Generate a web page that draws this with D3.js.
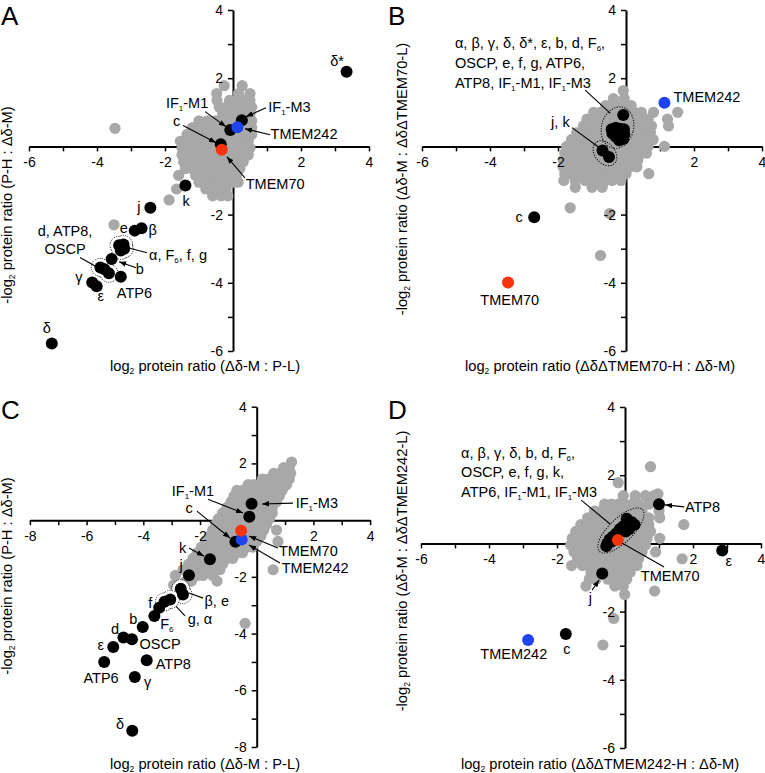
<!DOCTYPE html>
<html><head><meta charset="utf-8">
<script src="https://cdn.jsdelivr.net/npm/d3@7"></script>
<style>
body{margin:0;background:#fff}
svg{display:block}
text{font-family:"Liberation Sans",Arial,Helvetica,sans-serif;fill:#000}
</style>
</head><body>
<svg id="chart" width="765" height="773"></svg>
<script>
// ---------------- DATA ----------------
// tick labels
const xTickLabelsA = [-6,-4,-2,2,4], yTickLabelsA = [-6,-4,-2,2,4];
const xTickLabelsB = [-6,-4,-2,2,4], yTickLabelsB = [-6,-4,-2,2,4];
const xTickLabelsC = [-8,-6,-4,-2,2,4], yTickLabelsC = [-8,-6,-4,-2,2,4];
const xTickLabelsD = [-6,-4,-2,2,4], yTickLabelsD = [-6,-4,-2,2,4];

// axis titles
const xTitleA = "log_2 protein ratio (Δδ-M : P-L)";
const yTitleA = "-log_2 protein ratio (P-H : Δδ-M)";
const xTitleB = "log_2 protein ratio (ΔδΔTMEM70-H : Δδ-M)";
const yTitleB = "-log_2 protein ratio (Δδ-M : ΔδΔTMEM70-L)";
const xTitleC = "log_2 protein ratio (Δδ-M : P-L)";
const yTitleC = "-log_2 protein ratio (P-H : Δδ-M)";
const xTitleD = "log_2 protein ratio (ΔδΔTMEM242-H : Δδ-M)";
const yTitleD = "-log_2 protein ratio (Δδ-M : ΔδΔTMEM242-L)";

// gray (other proteins): rows of [y, x1, x2, ...]
const grayA = [
 [1.78,-0.26,0.27],
 [1.55,-0.48,0.16,0.5],
 [1.35,-0.47,-0.1,0.1,0.3,0.5],
 [1.15,-0.4,-0.2,0.0,0.2,0.4,0.55],
 [0.95,-0.3,-0.1,0.1,0.3,0.5],
 [0.75,-1.0,-0.75,-0.5,-0.3,-0.1,0.1,0.35,0.55],
 [0.55,-1.2,-1.0,-0.8,-0.6,-0.4,-0.2,0.0,0.35,0.55],
 [0.53,-3.47],
 [0.35,-1.35,-1.15,-0.95,-0.75,-0.55,-0.35,-0.15,0.05,0.25,0.45,0.55],
 [0.15,-1.55,-1.35,-1.15,-0.95,-0.75,-0.55,-0.35,-0.15,0.05,0.25,0.45],
 [-0.05,-1.5,-1.3,-1.1,-0.9,-0.7,-0.5,-0.3,-0.1,0.1,0.3,0.5],
 [-0.25,-1.5,-1.3,-1.1,-0.9,-0.7,-0.5,-0.3,-0.1,0.1,0.3,0.45],
 [-0.45,-1.45,-1.25,-1.05,-0.85,-0.65,-0.45,-0.25,-0.05,0.15,0.3],
 [-0.65,-1.4,-1.2,-1.0,-0.8,-0.6,-0.4,-0.2,0.0,0.2],
 [-0.85,-1.6,-1.1,-0.9,-0.7,-0.5,-0.3,-0.1,0.1],
 [-1.05,-1.0,-0.8,-0.6,-0.4,-0.2,0.0,0.15],
 [-1.25,-1.66,-0.8,-0.6,-0.4,-0.2],
 [-1.45,-0.6,-0.35,-0.15],
 [-1.57,-1.88],
 [-2.3,-3.5]
];
const grayB = [
 [1.64,-0.08],
 [1.4,-0.37,-0.05],
 [1.2,-0.6,-0.3,-0.05,0.15],
 [1.0,-0.95,-0.75,-0.55,-0.35,-0.15,0.05,0.25,0.45,0.81,1.52],
 [0.8,-1.15,-0.95,-0.75,-0.55,-0.35,-0.15,0.05,0.25,0.45,0.65,1.22],
 [0.6,-1.25,-1.05,-0.85,-0.65,-0.45,-0.25,-0.05,0.15,0.35,0.55,0.75,1.25],
 [0.4,-1.45,-1.25,-1.05,-0.85,-0.65,-0.45,-0.25,-0.05,0.15,0.35,0.55,0.72],
 [0.2,-1.6,-1.4,-1.2,-1.0,-0.8,-0.6,-0.4,-0.2,0.0,0.2,0.4,0.6,0.8],
 [0.0,-1.75,-1.55,-1.35,-1.15,-0.95,-0.75,-0.55,-0.35,-0.15,0.05,0.25,0.45,0.65,1.13],
 [-0.2,-1.8,-1.6,-1.4,-1.2,-1.0,-0.8,-0.6,-0.4,-0.2,0.0,0.2,0.4,0.6],
 [-0.4,-1.85,-1.65,-1.45,-1.25,-1.05,-0.85,-0.65,-0.45,-0.25,-0.05,0.15,0.35],
 [-0.6,-1.85,-1.65,-1.45,-1.25,-1.05,-0.85,-0.65,-0.45,-0.25,-0.05,0.13,0.32],
 [-0.8,-1.8,-1.6,-1.4,-1.2,-1.0,-0.8,-0.6,-0.4,-0.2,0.0,0.67],
 [-1.0,-1.83,-1.49,-1.2,-0.9,-0.6,-0.41,-0.15],
 [-1.2,-1.49,-1.0,-0.7],
 [-1.8,-1.64],
 [-1.97,-0.48],
 [-3.2,-0.75]
];
const grayC = [
 [2.05,1.23],
 [1.85,0.95,1.15],
 [1.65,0.6,0.8,1.0,1.2],
 [1.45,0.2,0.4,0.6,0.8,1.0,1.15],
 [1.25,-0.3,-0.1,0.1,0.3,0.5,0.7,0.9,1.05],
 [1.05,-0.7,-0.5,-0.3,-0.1,0.1,0.3,0.5,0.7,0.9],
 [0.85,-0.8,-0.6,-0.4,-0.2,0.0,0.2,0.4,0.6,0.8],
 [0.65,-0.9,-0.7,-0.5,-0.3,-0.1,0.1,0.3,0.5,0.7],
 [0.45,-1.05,-0.85,-0.65,-0.45,-0.25,-0.05,0.15,0.35,0.55],
 [0.25,-1.2,-1.0,-0.8,-0.6,-0.4,-0.2,0.0,0.2,0.4,0.55],
 [0.05,-1.35,-1.15,-0.95,-0.75,-0.55,-0.35,-0.15,0.05,0.25,0.45],
 [-0.15,-1.45,-1.25,-1.05,-0.85,-0.65,-0.45,-0.25,-0.05,0.15,0.35],
 [-0.35,-1.55,-1.35,-1.15,-0.95,-0.75,-0.55,-0.35,-0.15,0.05,0.25,0.7],
 [-0.55,-1.65,-1.45,-1.25,-1.05,-0.85,-0.65,-0.45,-0.25,-0.05,0.15],
 [-0.75,-1.8,-1.6,-1.4,-1.2,-1.0,-0.8,-0.6,-0.4,-0.2,0.0,0.75],
 [-0.95,-1.95,-1.75,-1.55,-1.35,-1.15,-0.95,-0.75,-0.55,-0.35,-0.15],
 [-1.15,-2.1,-1.9,-1.7,-1.5,-1.3,-1.1,-0.9,-0.7,-0.5],
 [-1.35,-2.25,-2.05,-1.85,-1.45,-1.25,-1.05,-0.85],
 [-1.55,-2.4,-2.2,-2.0,-1.8,-1.6,-1.4,-1.2],
 [-1.75,-2.6,-2.4,-2.2,-1.95,-1.75,-1.55,-1.3,0.58],
 [-1.95,-2.87,-2.1,-1.9,-1.55],
 [-2.15,-2.5,-2.3,-1.4],
 [-2.29,-2.93],
 [-3.64,-0.41]
];
const grayD = [
 [2.25,0.75],
 [1.78,-0.2],
 [1.45,0.97],
 [1.4,-0.05,0.3,0.6,0.85],
 [1.15,-0.6,-0.4,-0.2,0.0,0.2,0.4,0.7],
 [0.95,-0.9,-0.7,-0.5,-0.3,-0.1,0.1,0.3,0.5,1.0],
 [0.75,-1.1,-0.9,-0.7,-0.5,-0.3,-0.1,0.1,0.3,0.5,0.7,1.02],
 [0.55,-1.3,-1.1,-0.9,-0.7,-0.5,-0.3,-0.1,0.1,0.3,0.5,0.7,1.73],
 [0.35,-1.45,-1.25,-1.05,-0.85,-0.65,-0.45,-0.25,-0.05,0.15,0.35,0.55,0.75],
 [0.15,-1.55,-1.35,-1.15,-0.95,-0.75,-0.55,-0.35,-0.15,0.05,0.25,0.45,0.65,1.02],
 [-0.05,-1.6,-1.4,-1.2,-1.0,-0.8,-0.6,-0.4,-0.2,0.0,0.2,0.4,0.6],
 [-0.25,-1.5,-1.3,-1.1,-0.9,-0.7,-0.5,-0.3,-0.1,0.1,0.3,0.5,0.9],
 [-0.45,-1.4,-1.2,-1.0,-0.8,-0.6,-0.4,-0.2,0.0,0.2,0.4,1.68],
 [-0.65,-1.57,-1.25,-1.05,-0.85,-0.65,-0.45,-0.25,-0.05,0.15,0.35],
 [-0.85,-1.0,-0.8,-0.6,-0.4,-0.2,0.0,0.15],
 [-1.05,-1.05,-0.85,-0.5,-0.3,-0.1,0.05],
 [-1.25,-1.15,-0.3,-0.05],
 [-1.4,0.87],
 [-1.5,-0.01],
 [-2.2,-0.33],
 [-2.98,-0.65]
];

// ATP synthase subunits & IF1 (black): [name, x, y]
const blackA = [
 ["δ*",3.34,2.19],["IF1-M3",0.26,0.77],["IF1-M1",-0.08,0.48],["c",-0.36,0.06],
 ["k",-1.4,-1.15],["j",-2.43,-1.8],["e",-2.89,-2.47],["β",-2.69,-2.4],
 ["α",-3.35,-2.9],["F6",-3.22,-2.88],["f",-3.3,-3.05],["g",-3.2,-3.0],
 ["b",-3.57,-3.3],["d",-3.9,-3.55],["ATP8",-3.78,-3.6],["OSCP",-3.65,-3.72],
 ["ATP6",-3.3,-3.82],["γ",-4.14,-3.99],["ε",-4.01,-4.1],["δ",-5.33,-5.78]
];
const blackB = [
 ["δ*",-0.08,0.92],["α",-0.42,0.5],["β",-0.3,0.55],["γ",-0.18,0.52],["δ",-0.06,0.5],
 ["ε",-0.4,0.38],["b",-0.28,0.4],["d",-0.14,0.38],["F6",-0.05,0.35],["OSCP",-0.3,0.28],
 ["e",-0.18,0.25],["f",-0.08,0.22],["g",-0.2,0.18],["ATP6",-0.35,0.45],["ATP8",-0.12,0.45],
 ["IF1-M1",-0.25,0.35],["IF1-M3",-0.1,0.3],
 ["j",-0.69,-0.12],["k",-0.5,-0.31],["c",-2.7,-2.08]
];
const blackC = [
 ["IF1-M3",-0.18,0.58],["IF1-M1",-0.26,0.12],["c",-0.75,-0.76],["k",-1.65,-1.38],
 ["j",-2.39,-1.94],["β",-2.68,-2.42],["e",-2.6,-2.62],["g",-3.05,-2.8],["α",-3.25,-2.88],
 ["f",-3.44,-3.09],["F6",-3.61,-3.38],["b",-4.02,-3.77],["d",-4.7,-4.14],["OSCP",-4.4,-4.2],
 ["ε",-5.06,-4.47],["ATP6",-5.38,-5.0],["ATP8",-3.88,-4.94],["γ",-4.3,-5.53],["δ",-4.39,-7.43]
];
const blackD = [
 ["α",0.05,0.72],["β",0.2,0.62],["γ",0.28,0.55],["δ",0.1,0.55],["b",-0.05,0.5],
 ["d",0.12,0.42],["F6",-0.15,0.42],["OSCP",0.02,0.35],["e",-0.25,0.3],["f",-0.35,0.2],
 ["g",-0.45,0.12],["k",-0.52,0.0],["ATP6",-0.55,-0.08],["IF1-M1",-0.4,0.05],["IF1-M3",0.15,0.5],
 ["ATP8",1.0,1.15],["ε",2.86,-0.21],["j",-0.67,-0.88],["c",-1.74,-2.66]
];
// TMEM242 (blue) and TMEM70 (red): [x, y]
const tmem242A = [0.13,0.56], tmem70A = [-0.33,-0.1];
const tmem242B = [1.13,1.28], tmem70B = [-3.47,-3.99];
const tmem242C = [-0.53,-0.68], tmem70C = [-0.55,-0.37];
const tmem242D = [-2.85,-2.83], tmem70D = [-0.21,0.1];

// grouped (dotted outline) subunits
const groupsA = [["α","F6","f","g"],["d","ATP8","OSCP"]];
const groupsC = [["β","e"],["g","α"]];

// ---------------- ANNOTATIONS (data coordinates) ----------------
const labelsA = [
 {t:"δ*",x:3.06,y:2.51},{t:"IF_1-M1",x:-1.35,y:1.28},{t:"IF_1-M3",x:1.66,y:1.16},
 {t:"c",x:-1.66,y:0.75},{t:"TMEM242",x:2.09,y:0.36},{t:"TMEM70",x:1.24,y:-1.1},
 {t:"k",x:-1.38,y:-1.59},{t:"j",x:-2.77,y:-1.79},{t:"e",x:-3.21,y:-2.4},{t:"β",x:-2.36,y:-2.45},
 {t:"d, ATP8,",x:-4.94,y:-2.47},{t:"OSCP",x:-4.94,y:-3.01},{t:"α, F_6, f, g",x:-2.47,y:-3.18,a:"start"},
 {t:"b",x:-2.74,y:-3.6},{t:"γ",x:-4.53,y:-3.84},{t:"ε",x:-3.89,y:-4.38},{t:"ATP6",x:-2.9,y:-4.3},
 {t:"δ",x:-5.48,y:-5.34}
];
const arrowsA = [
 [-0.82,1.02,-0.21,0.58,1],[0.97,1.13,0.38,0.87,1],[-1.47,0.61,-0.5,0.11,1],
 [1.09,0.34,0.35,0.52,1],[0.35,-0.92,-0.18,-0.3,1],[-4.5,-3.26,-3.97,-3.56,0],
 [-2.53,-3.12,-3.09,-2.97,0],[-2.85,-3.56,-3.35,-3.38,1]
];
const labelsB = [
 {t:"α, β, γ, δ, δ*, ε, b, d, F_6,",x:-5.03,y:3.04,a:"start"},
 {t:"OSCP, e, f, g, ATP6,",x:-5.03,y:2.45,a:"start"},
 {t:"ATP8, IF_1-M1, IF_1-M3",x:-5.03,y:1.86,a:"start"},
 {t:"j, k",x:-1.93,y:0.71},{t:"c",x:-3.14,y:-2.06},{t:"TMEM70",x:-3.42,y:-4.5},
 {t:"TMEM242",x:2.38,y:1.46}
];
const arrowsB = [[-1.2,1.65,-0.46,0.97,0],[-1.59,0.55,-0.82,-0.01,0]];
const ellipsesB = [{x:-0.25,y:0.55,rx:16,ry:21,rot:15},{x:-0.62,y:-0.2,rx:14,ry:10,rot:50}];
const labelsC = [
 {t:"IF_1-M1",x:-2.25,y:1.03},{t:"IF_1-M3",x:2.12,y:0.59},{t:"c",x:-2.38,y:0.43},
 {t:"TMEM70",x:1.82,y:-1.09},{t:"TMEM242",x:2.06,y:-1.68},{t:"k",x:-2.61,y:-0.97},
 {t:"j",x:-2.67,y:-1.59},{t:"β, e",x:-1.41,y:-2.85},{t:"g, α",x:-2.0,y:-3.5},
 {t:"f",x:-3.75,y:-2.93},{t:"F_6",x:-3.17,y:-3.67},{t:"b",x:-4.35,y:-3.5},{t:"d",x:-5.0,y:-3.85},
 {t:"OSCP",x:-3.41,y:-4.36},{t:"ε",x:-5.5,y:-4.4},{t:"ATP6",x:-5.49,y:-5.56},
 {t:"ATP8",x:-2.94,y:-5.08},{t:"γ",x:-3.85,y:-5.7},{t:"δ",x:-4.82,y:-7.2}
];
const arrowsC = [
 [-1.72,0.74,-0.48,0.25,1],[1.28,0.6,0.19,0.57,1],[-2.11,0.32,-0.94,-0.63,1],
 [0.75,-0.98,-0.27,-0.56,1],[0.82,-1.51,-0.27,-0.88,1],[-2.39,-0.98,-1.86,-1.27,1],
 [-1.89,-2.75,-2.39,-2.57,0],[-2.53,-3.38,-2.85,-3.03,0]
];
const labelsD = [
 {t:"α, β, γ, δ, b, d, F_6,",x:-4.82,y:2.65,a:"start"},
 {t:"OSCP, e, f, g, k,",x:-4.82,y:2.09,a:"start"},
 {t:"ATP6, IF_1-M1, IF_1-M3",x:-4.82,y:1.51,a:"start"},
 {t:"ATP8",x:2.28,y:1.08},{t:"ε",x:3.05,y:-0.52},{t:"TMEM70",x:1.33,y:-0.96},
 {t:"j",x:-1.02,y:-1.59},{t:"c",x:-1.71,y:-3.1},{t:"TMEM242",x:-3.27,y:-3.25}
];
const arrowsD = [
 [-1.29,1.27,-0.44,0.57,0],[1.74,1.07,1.18,1.13,1],[1.15,-0.69,-0.09,0.01,0],
 [-0.97,-1.37,-0.76,-1.07,1]
];
const ellipsesD = [{x:-0.12,y:0.38,rx:30,ry:12,rot:-44}];

// ---------------- LAYOUT ----------------
const panels = [
 {letter:"A",lx:1,ly:25,xd:[-6,4],xr:[29,369],yd:[-6,4],yr:[351,10],
  xl:xTickLabelsA,yl:yTickLabelsA,xt:xTitleA,yt:yTitleA,xtp:[205,371],ytp:[12,205],
  gray:grayA,black:blackA,blue:tmem242A,red:tmem70A,groups:groupsA,labels:labelsA,arrows:arrowsA,ell:[]},
 {letter:"B",lx:388,ly:25,xd:[-6,4],xr:[422,762],yd:[-6,4],yr:[351,10],
  xl:xTickLabelsB,yl:yTickLabelsB,xt:xTitleB,yt:yTitleB,xtp:[600,371],ytp:[407,179],
  gray:grayB,black:blackB,blue:tmem242B,red:tmem70B,groups:[],labels:labelsB,arrows:arrowsB,ell:ellipsesB},
 {letter:"C",lx:1,ly:419,xd:[-8,4],xr:[29.9,370.1],yd:[-8,4],yr:[747,406.7],
  xl:xTickLabelsC,yl:yTickLabelsC,xt:xTitleC,yt:yTitleC,xtp:[205,768.5],ytp:[12,576],
  gray:grayC,black:blackC,blue:tmem242C,red:tmem70C,groups:groupsC,labels:labelsC,arrows:arrowsC,ell:[]},
 {letter:"D",lx:388,ly:419,xd:[-6,4],xr:[421,761],yd:[-6,4],yr:[748,407],
  xl:xTickLabelsD,yl:yTickLabelsD,xt:xTitleD,yt:yTitleD,xtp:[600,768.5],ytp:[407,571],
  gray:grayD,black:blackD,blue:tmem242D,red:tmem70D,groups:[],labels:labelsD,arrows:arrowsD,ell:ellipsesD}
];

const GRAY="#a8a8a8", BLUE="#1d43f2", RED="#f8340f";
const R=6, RG=5.6, FS=14, FT=14.7;

const svg = d3.select("#chart");
svg.append("defs").append("marker").attr("id","ah").attr("viewBox","0 0 10 10")
  .attr("refX",10).attr("refY",5).attr("markerWidth",6.5).attr("markerHeight",6.5)
  .attr("orient","auto").append("path").attr("d","M0,1.2L10,5L0,8.8z").attr("fill","#000");

function rich(sel, str, sub){
  const parts = str.split(/(_.)/).filter(p=>p!=="");
  let shifted=false;
  parts.forEach(p=>{
    if(p[0]==="_"){
      sel.append("tspan").attr("font-size",sub).attr("dy",3).text(p[1]);
      shifted=true;
    } else {
      const t=sel.append("tspan").text(p);
      if(shifted){t.attr("dy",-3);shifted=false;}
    }
  });
}

panels.forEach(p=>{
  const g = svg.append("g");
  const x = d3.scaleLinear().domain(p.xd).range(p.xr);
  const y = d3.scaleLinear().domain(p.yd).range(p.yr);

  const xt = d3.range(p.xd[0],p.xd[1]+1).filter(v=>v!==0);
  const yt = d3.range(p.yd[0],p.yd[1]+1).filter(v=>v!==0);

  // axis lines and ticks (below points)
  const ax = g.append("g").attr("transform",`translate(0,${y(0)})`)
    .call(d3.axisBottom(x).tickValues(xt).tickSize(5).tickSizeOuter(0).tickFormat(()=>""));
  const ay = g.append("g").attr("transform",`translate(${x(0)},0)`)
    .call(d3.axisLeft(y).tickValues(yt).tickSize(5).tickSizeOuter(0).tickFormat(()=>""));
  [ax,ay].forEach(a=>{
    a.select(".domain").attr("stroke","#000").attr("stroke-width",2);
    a.selectAll(".tick line").attr("stroke","#000").attr("stroke-width",1.5);
  });

  // gray points
  const gpts = p.gray.flatMap(([yy,...xs])=>xs.map(xx=>[xx,yy]));
  g.append("g").selectAll("circle").data(gpts).join("circle")
    .attr("cx",d=>x(d[0])).attr("cy",d=>y(d[1])).attr("r",RG).attr("fill",GRAY);

  // tick labels (above points)
  const axl = g.append("g").attr("transform",`translate(0,${y(0)})`)
    .call(d3.axisBottom(x).tickValues(xt).tickSize(5).tickSizeOuter(0).tickPadding(6)
      .tickFormat(d=>p.xl.includes(d)?String(d):""));
  const ayl = g.append("g").attr("transform",`translate(${x(0)},0)`)
    .call(d3.axisLeft(y).tickValues(yt).tickSize(5).tickSizeOuter(0).tickPadding(5)
      .tickFormat(d=>p.yl.includes(d)?String(d):""));
  [axl,ayl].forEach(a=>{
    a.select(".domain").remove();
    a.selectAll(".tick line").remove();
    a.selectAll(".tick text").attr("font-size",FS).attr("font-family","Liberation Sans, Arial, sans-serif").attr("fill","#000");
  });

  // dotted group outlines
  const byName = new Map(p.black.map(d=>[d[0],d]));
  p.groups.forEach(grp=>{
    const pts = grp.map(n=>byName.get(n));
    const hg = g.append("g");
    hg.selectAll("circle.o").data(pts).join("circle").attr("class","o")
      .attr("cx",d=>x(d[1])).attr("cy",d=>y(d[2])).attr("r",R+3)
      .attr("fill","none").attr("stroke","#000").attr("stroke-width",1).attr("stroke-dasharray","1,1.3");
    hg.selectAll("circle.f").data(pts).join("circle").attr("class","f")
      .attr("cx",d=>x(d[1])).attr("cy",d=>y(d[2])).attr("r",R+2.5).attr("fill","#fff");
  });
  // ellipses
  p.ell.forEach(e=>{
    g.append("ellipse").attr("transform",`translate(${x(e.x)},${y(e.y)}) rotate(${e.rot})`)
      .attr("rx",e.rx).attr("ry",e.ry).attr("fill","none").attr("stroke","#000")
      .attr("stroke-width",1).attr("stroke-dasharray","1.2,1.4");
  });

  // black points
  g.append("g").selectAll("circle").data(p.black).join("circle")
    .attr("cx",d=>x(d[1])).attr("cy",d=>y(d[2])).attr("r",R).attr("fill","#000");
  g.append("circle").attr("cx",x(p.blue[0])).attr("cy",y(p.blue[1])).attr("r",R).attr("fill",BLUE);
  g.append("circle").attr("cx",x(p.red[0])).attr("cy",y(p.red[1])).attr("r",R).attr("fill",RED);

  // arrows / leader lines
  p.arrows.forEach(a=>{
    const l=g.append("line").attr("x1",x(a[0])).attr("y1",y(a[1])).attr("x2",x(a[2])).attr("y2",y(a[3]))
      .attr("stroke","#000").attr("stroke-width",1.1);
    if(a[4]) l.attr("marker-end","url(#ah)");
  });

  // labels
  p.labels.forEach(l=>{
    const t=g.append("text").attr("x",x(l.x)).attr("y",y(l.y)+5)
      .attr("text-anchor",l.a||"middle").attr("font-size",FS+0.5);
    rich(t,l.t,8);
  });

  // axis titles
  const tx=g.append("text").attr("x",p.xtp[0]).attr("y",p.xtp[1]).attr("text-anchor","middle").attr("font-size",FT);
  rich(tx,p.xt,8.5);
  const ty=g.append("text").attr("transform",`translate(${p.ytp[0]},${p.ytp[1]}) rotate(-90)`)
    .attr("text-anchor","middle").attr("font-size",FT);
  rich(ty,p.yt,8.5);

  // panel letter
  g.append("text").attr("x",p.lx).attr("y",p.ly).attr("font-size",26).text(p.letter);
});
</script>
</body></html>
